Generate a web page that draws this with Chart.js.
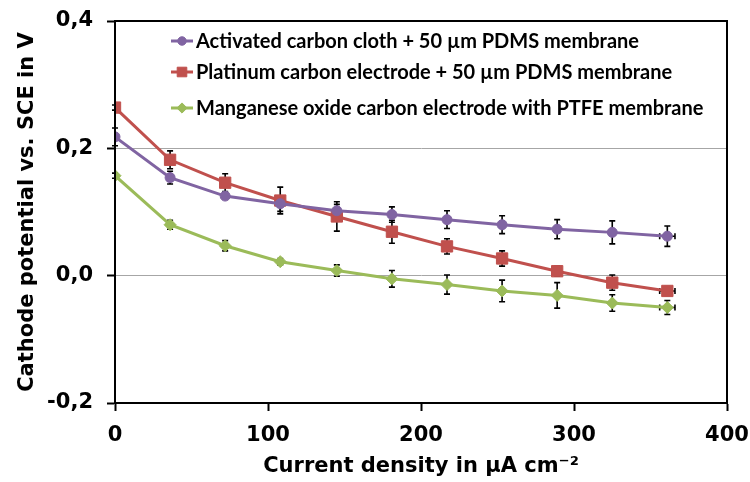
<!DOCTYPE html>
<html>
<head>
<meta charset="utf-8">
<title>Cathode potential</title>
<script src="https://cdn.jsdelivr.net/npm/chart.js@4.4.0/dist/chart.umd.min.js"></script>
<style>
    html, body { margin: 0; padding: 0; background: #fff; }
    #wrap { width: 750px; height: 482px; }
</style>
</head>
<body>
<div id="wrap"><canvas id="potentialChart"></canvas></div>
<script>
// Dados (densidade de corrente em µA cm-2, potencial em V)
const currentDensity = [0, 36, 72, 108, 145, 181, 217, 253, 289, 325, 361];
const currentDensityErr = [0, 0, 0, 0, 0, 0, 0, 0, 0, 0, 5];

const carbonCloth    = [0.218, 0.154, 0.125, 0.113, 0.102, 0.096, 0.088, 0.080, 0.073, 0.068, 0.062];
const carbonClothErr = [0.014, 0.010, 0.005, 0.012, 0.010, 0.012, 0.014, 0.014, 0.015, 0.018, 0.016];

const platinum    = [0.264, 0.182, 0.146, 0.118, 0.093, 0.069, 0.046, 0.027, 0.007, -0.011, -0.024];
const platinumErr = [0.004, 0.014, 0.014, 0.021, 0.023, 0.018, 0.012, 0.012, 0.008, 0.012, 0.007];

const manganese    = [0.157, 0.080, 0.047, 0.022, 0.008, -0.005, -0.014, -0.024, -0.031, -0.043, -0.050];
const manganeseErr = [0.004, 0.007, 0.008, 0.005, 0.009, 0.013, 0.015, 0.017, 0.020, 0.013, 0.011];

const seriesLabels = [
    'Activated carbon cloth + 50 µm PDMS membrane',
    'Platinum carbon electrode + 50 µm PDMS membrane',
    'Manganese oxide carbon electrode with PTFE membrane'
];
const yTicks = [-0.2, 0.0, 0.2, 0.4];
const xTicks = [0, 100, 200, 300, 400];

const axisFont  = { family: '"DejaVu Sans", sans-serif', size: 21, weight: 'bold' };

function toPoints(values) {
    return values.map((v, i) => ({ x: currentDensity[i], y: v }));
}

function fmtComma(v) {
    if (Math.abs(v) < 1e-9) return '0,0';
    return v.toFixed(1).replace('.', ',');
}

// Barras de erro (desenhadas antes das linhas, por baixo dos marcadores)
const errorBars = {
    id: 'errorBars',
    beforeDatasetsDraw(chart) {
        const { ctx, scales: { x, y } } = chart;
        ctx.save();
        ctx.strokeStyle = '#000';
        ctx.lineWidth = 1.6;
        chart.data.datasets.forEach(ds => {
            ds.data.forEach((p, i) => {
                const px = x.getPixelForValue(p.x);
                const e = ds.yErr[i];
                if (e > 0) {
                    const y1 = y.getPixelForValue(p.y + e);
                    const y2 = y.getPixelForValue(p.y - e);
                    ctx.beginPath();
                    ctx.moveTo(px, y1); ctx.lineTo(px, y2);
                    ctx.moveTo(px - 3, y1); ctx.lineTo(px + 3, y1);
                    ctx.moveTo(px - 3, y2); ctx.lineTo(px + 3, y2);
                    ctx.stroke();
                }
                const ex = currentDensityErr[i];
                if (ex > 0) {
                    const py = y.getPixelForValue(p.y);
                    const x1 = x.getPixelForValue(p.x - ex);
                    const x2 = x.getPixelForValue(p.x + ex);
                    ctx.beginPath();
                    ctx.moveTo(x1, py); ctx.lineTo(x2, py);
                    ctx.moveTo(x1, py - 3); ctx.lineTo(x1, py + 3);
                    ctx.moveTo(x2, py - 3); ctx.lineTo(x2, py + 3);
                    ctx.stroke();
                }
            });
        });
        ctx.restore();
    }
};

// Moldura + legenda dentro da área do gráfico
const frameAndLegend = {
    id: 'frameAndLegend',
    afterDraw(chart) {
        const { ctx, chartArea: a } = chart;
        ctx.save();
        ctx.strokeStyle = '#000';
        ctx.lineWidth = 2;
        ctx.strokeRect(a.left, a.top, a.right - a.left, a.bottom - a.top);

        const rows = [41, 72, 108];
        ctx.font = 'bold 20px Lato, "Open Sans", sans-serif';
        ctx.textBaseline = 'middle';
        chart.data.datasets.forEach((ds, i) => {
            const yy = rows[i];
            ctx.strokeStyle = ds.borderColor;
            ctx.lineWidth = 3;
            ctx.beginPath();
            ctx.moveTo(171, yy); ctx.lineTo(193, yy);
            ctx.stroke();
            ctx.fillStyle = ds.pointBackgroundColor;
            ctx.strokeStyle = ds.pointBorderColor;
            ctx.lineWidth = 1;
            Chart.helpers.drawPoint(ctx, {
                pointStyle: ds.pointStyle, radius: ds.pointRadius * 0.85, rotation: 0, borderWidth: 1
            }, 182, yy);
            ctx.fillStyle = '#000';
            ctx.fillText(ds.label, 196, yy + 1);
        });
        ctx.restore();
    }
};

function makeSet(label, values, errs, color, style, radius) {
    return {
        label: label,
        data: toPoints(values),
        yErr: errs,
        borderColor: color,
        backgroundColor: color,
        pointBackgroundColor: color,
        pointBorderColor: color,
        pointStyle: style,
        pointRadius: radius,
        pointBorderWidth: 1,
        borderWidth: 3,
        tension: 0
    };
}

new Chart(document.getElementById('potentialChart').getContext('2d'), {
    type: 'line',
    data: {
        datasets: [
            makeSet(seriesLabels[0], carbonCloth, carbonClothErr, '#8064A2', 'circle', 5),
            makeSet(seriesLabels[1], platinum, platinumErr, '#C0504D', 'rect', 8),
            makeSet(seriesLabels[2], manganese, manganeseErr, '#9BBB59', 'rectRot', 6)
        ]
    },
    options: {
        responsive: true,
        maintainAspectRatio: false,
        animation: false,
        layout: { padding: { top: 21, right: 23, left: 0, bottom: 0 } },
        plugins: {
            legend: { display: false },
            tooltip: { enabled: false }
        },
        scales: {
            x: {
                type: 'linear',
                min: 0,
                max: 400,
                afterBuildTicks: s => { s.ticks = xTicks.map(v => ({ value: v })); },
                afterFit: s => { s.height = 79; s.paddingLeft = 0; s.paddingRight = 0; },
                ticks: { color: '#000', font: axisFont, padding: 12, maxRotation: 0 },
                grid: { drawOnChartArea: false, tickLength: 8, tickColor: '#000', tickWidth: 2 },
                border: { color: '#000', width: 2 },
                title: {
                    display: true,
                    text: 'Current density in µA cm⁻²',
                    color: '#000',
                    font: axisFont,
                    padding: { top: 0, bottom: 3 }
                }
            },
            y: {
                min: -0.2,
                max: 0.4,
                afterBuildTicks: s => { s.ticks = yTicks.map(v => ({ value: v })); },
                afterFit: s => { s.width = 115; s.paddingTop = 0; s.paddingBottom = 0; },
                ticks: { color: '#000', font: axisFont, padding: 14, callback: v => fmtComma(v) },
                grid: {
                    color: c => (c.tick && (Math.abs(c.tick.value) < 1e-9 || Math.abs(c.tick.value - 0.2) < 1e-9)) ? '#a6a6a6' : 'rgba(0,0,0,0)',
                    lineWidth: 1,
                    tickLength: 8,
                    tickColor: '#000',
                    tickWidth: 2
                },
                border: { color: '#000', width: 2 },
                title: {
                    display: true,
                    text: 'Cathode potential vs. SCE in V',
                    color: '#000',
                    font: axisFont,
                    padding: { top: 15, bottom: 0 }
                }
            }
        }
    },
    plugins: [errorBars, frameAndLegend]
});
</script>
</body>
</html>
